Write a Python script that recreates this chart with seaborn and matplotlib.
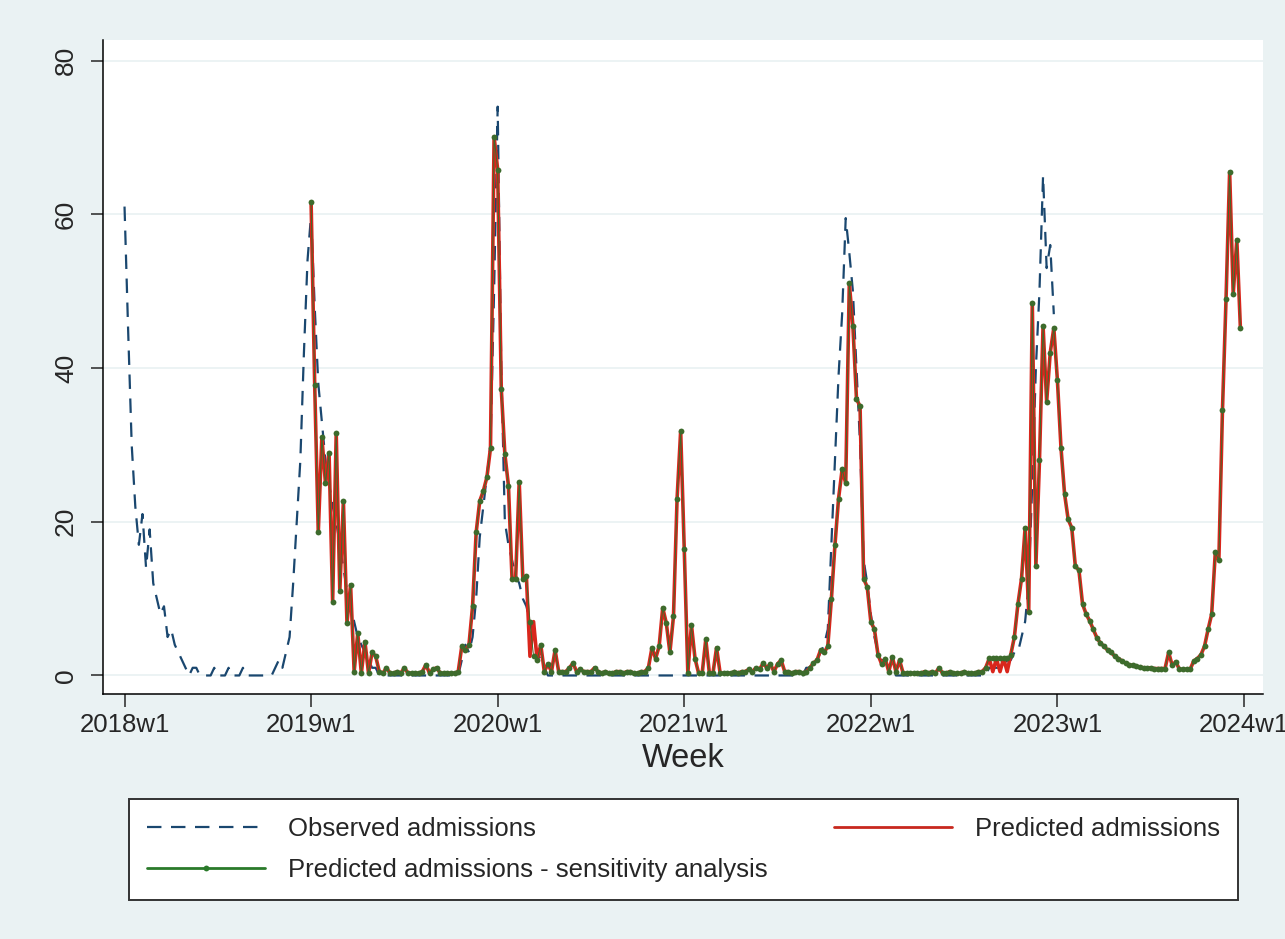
import numpy as np
import pandas as pd
import matplotlib
matplotlib.use("Agg")
import matplotlib.pyplot as plt
import seaborn as sns

# weekly admissions, week 0 = 2018w1 (52 weeks per year)
obs_2018 = [61, 45, 30, 22, 17, 21, 14, 19, 12, 10,
            8, 9, 5, 6, 4, 3, 2, 1, 0, 1,
            1, 0, 0, 0, 0, 1, 0, 0, 0, 1,
            0, 0, 0, 1, 0, 0, 0, 0, 0, 0,
            0, 0, 1, 2, 1, 3, 5, 12, 20, 28,
            42, 54]
obs_2019 = [60, 48, 38, 33, 28, 25, 22, 20, 17, 14,
            11, 9, 7, 5, 4, 3, 2, 1, 1, 0,
            0, 0, 0, 0, 0, 0, 0, 0, 0, 0,
            0, 0, 0, 0, 0, 0, 0, 0, 0, 0,
            0, 0, 2, 4, 3, 5, 10, 18, 22, 26,
            30, 50]
obs_2020 = [74, 40, 20, 17, 15, 13, 12, 10, 9, 7,
            5, 3, 2, 1] + [0] * 38
obs_2021 = [0] * 34 + [1, 1, 2, 2, 3, 4, 6, 17, 28, 39,
                       47, 59.5, 55, 50, 40, 30, 15, 12]
obs_2022 = [8, 5, 3, 2, 2, 1, 1] + [0] * 26 + \
           [1, 1, 1, 1, 1, 2, 2, 3, 3, 5, 7, 12, 25, 40, 50, 65, 53, 56, 47]

pred_2019 = [61.6, 37.8, 18.6, 31, 25, 29, 9.6, 31.5, 11, 22.7,
             6.8, 11.8, 0.5, 5.5, 0.3, 4.4, 0.3, 3, 2.5, 0.5,
             0.3, 1, 0.3, 0.3, 0.5, 0.3, 1, 0.3, 0.3, 0.3,
             0.3, 0.5, 1.4, 0.3, 0.8, 1, 0.3, 0.3, 0.3, 0.3,
             0.3, 0.5, 3.8, 3.3, 4, 9, 18.6, 22.7, 24, 25.8,
             29.6, 70.1]
pred_2020 = [65.8, 37.3, 28.8, 24.7, 12.6, 12.6, 25.2, 12.6, 12.9, 2.5,
             7, 2, 4, 0.5, 1.5, 0.5, 3.3, 0.5, 0.5, 0.5,
             1, 1.6, 0.5, 0.8, 0.5, 0.5, 0.5, 1, 0.5, 0.3,
             0.5, 0.3, 0.3, 0.5, 0.5, 0.3, 0.5, 0.5, 0.3, 0.3,
             0.5, 0.5, 1, 3.6, 2.2, 3.8, 8.8, 6.8, 3, 7.7,
             23, 31.8]
pred_2021 = [16.4, 0.3, 6.6, 2.2, 0.3, 0.3, 4.7, 0.3, 0.3, 3.6,
             0.3, 0.3, 0.3, 0.3, 0.5, 0.3, 0.5, 0.5, 0.8, 0.5,
             1, 0.8, 1.6, 1, 1.5, 0.5, 1.5, 2, 0.5, 0.5,
             0.3, 0.5, 0.5, 0.3, 0.5, 1, 1.6, 2, 3.3, 3,
             3.8, 9.9, 17, 23, 26.8, 25, 51, 45.5, 36, 35,
             12.6, 11.5]
pred_2022 = [7, 6, 2.7, 1.5, 2.2, 0.5, 2.4, 0.5, 2, 0.3,
             0.3, 0.3, 0.3, 0.3, 0.3, 0.5, 0.3, 0.5, 0.3, 1,
             0.3, 0.3, 0.5, 0.3, 0.3, 0.3, 0.5, 0.3, 0.3, 0.3,
             0.5, 0.5, 1, 2.2, 0.5, 2.2, 0.5, 2.2, 0.5, 2.7,
             5, 9.3, 12.6, 19.2, 8.2, 48.5, 14.2, 28, 45.5, 35.6,
             42, 45.2]
pred_2023 = [38.4, 29.6, 23.6, 20.3, 19.2, 14.2, 13.7, 9.3, 8, 7.1,
             6, 4.9, 4.2, 3.8, 3.3, 3, 2.5, 2.2, 1.9, 1.6,
             1.4, 1.3, 1.2, 1.1, 1, 1, 1, 0.9, 0.9, 0.9,
             0.9, 3, 1.3, 1.8, 0.8, 0.8, 0.8, 0.8, 1.9, 2.2,
             2.7, 3.8, 6, 8, 16, 15, 34.5, 49, 65.5, 49.6,
             56.7, 45.2]

# weeks where the sensitivity analysis differs from the main prediction
sens_weeks = [113, 114, 241, 242, 243, 244, 245, 246, 247]
sens_values = [7, 2.5, 2.3, 2.3, 2.3, 2.3, 2.3, 2.3, 2.7]

tick_weeks = [0, 52, 104, 156, 208, 260, 312]
tick_labels = ["2018w1", "2019w1", "2020w1", "2021w1", "2022w1", "2023w1", "2024w1"]

observed = obs_2018 + obs_2019 + obs_2020 + obs_2021 + obs_2022
predicted = pred_2019 + pred_2020 + pred_2021 + pred_2022 + pred_2023

obs_df = pd.DataFrame({"week": np.arange(len(observed)), "admissions": observed})
pred_df = pd.DataFrame({"week": 52 + np.arange(len(predicted)), "admissions": predicted})
sens_df = pred_df.copy()
sens_df.loc[sens_df["week"].isin(sens_weeks), "admissions"] = sens_values

sns.set_style("white")
plt.rcParams["font.family"] = ["Liberation Sans", "DejaVu Sans"]

W, H = 1285, 939
fig = plt.figure(figsize=(W / 100, H / 100), dpi=100, facecolor="#EAF2F3")
ax = fig.add_axes([103 / W, (H - 694) / H, (1263 - 103) / W, (694 - 40) / H])
ax.set_facecolor("white")

sns.lineplot(data=obs_df, x="week", y="admissions", ax=ax, color="#1a476f",
             lw=1.6, linestyle=(0, (6.5, 4.3)), label="Observed admissions", zorder=3)
sns.lineplot(data=pred_df, x="week", y="admissions", ax=ax, color="#d9261c",
             lw=2.6, label="Predicted admissions", zorder=4)
sns.lineplot(data=sens_df, x="week", y="admissions", ax=ax, color="#3d6b2c",
             lw=0.7, marker="o", markersize=4.2, markeredgewidth=0,
             label="Predicted admissions - sensitivity analysis", zorder=5)
if ax.get_legend() is not None:
    ax.get_legend().remove()

ax.set_xlim(-6.0, 317.3)
ax.set_ylim(-2.41, 82.67)
ax.set_xticks(tick_weeks)
ax.set_xticklabels(tick_labels)
ax.set_yticks([0, 20, 40, 60, 80])
ax.grid(axis="y", color="#EAF2F3", lw=1.3)
ax.grid(axis="x", visible=False)
ax.set_axisbelow(True)

for s in ["top", "right"]:
    ax.spines[s].set_visible(False)
for s in ["left", "bottom"]:
    ax.spines[s].set_color("black")
    ax.spines[s].set_linewidth(1.1)

ax.tick_params(axis="y", length=9, width=1.1, pad=9, labelsize=19, left=True)
ax.tick_params(axis="x", length=9, width=1.1, pad=5, labelsize=18.5, bottom=True)
for lab in ax.get_yticklabels():
    lab.set_rotation(90)
    lab.set_va("center")

ax.set_xlabel("Week", fontsize=23.5, labelpad=4)
ax.set_ylabel("")

handles, labels = ax.get_legend_handles_labels()
order = [labels.index("Observed admissions"),
         labels.index("Predicted admissions - sensitivity analysis"),
         labels.index("Predicted admissions")]
leg = fig.legend([handles[i] for i in order], [labels[i] for i in order],
                 loc="lower left", ncol=2, mode="expand",
                 bbox_to_anchor=(129 / W, (H - 900) / H, (1238 - 129) / W, (900 - 794) / H),
                 borderaxespad=0, frameon=True, fancybox=False, framealpha=1,
                 edgecolor="#333333", fontsize=18.5, handlelength=4.6,
                 handletextpad=0.9, numpoints=1, labelspacing=0.65, borderpad=0.7)
leg.get_frame().set_linewidth(1.4)
leg.get_frame().set_facecolor("white")
for h in leg.legend_handles:
    if h.get_label() == "Predicted admissions - sensitivity analysis":
        h.set_color("#2a7a2a")
        h.set_linewidth(2)
    elif h.get_label() == "Predicted admissions":
        h.set_color("#c8281e")
        h.set_linewidth(2)

fig.savefig("out.png", dpi=100, facecolor=fig.get_facecolor())
